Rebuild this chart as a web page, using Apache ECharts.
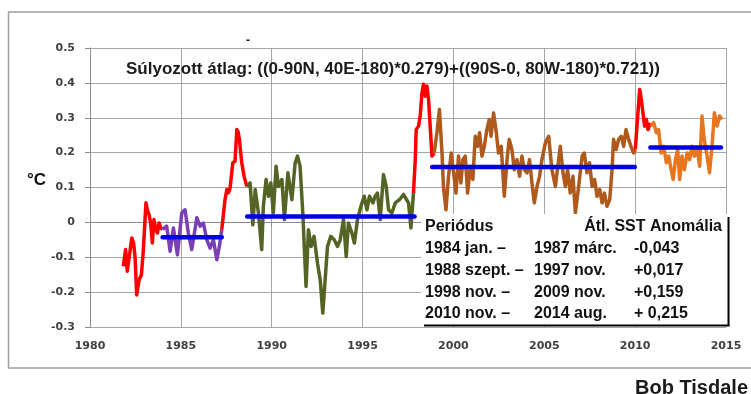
<!DOCTYPE html>
<html>
<head>
<meta charset="utf-8">
<script src="https://cdn.jsdelivr.net/npm/echarts@6/dist/echarts.min.js"></script>
<style>
  html, body { margin: 0; padding: 0; background: #ffffff; }
  #chart { width: 751px; height: 394px; }
</style>
</head>
<body>
<div id="chart"></div>
<script>
// Monthly-ish SST anomaly segments (decimal year, °C)
const elNino1982Years = [1981.83, 1981.96, 1982.05, 1982.12, 1982.30, 1982.40, 1982.48, 1982.57, 1982.70, 1982.83, 1982.93, 1983.08, 1983.15, 1983.25, 1983.34, 1983.43, 1983.52, 1983.62, 1983.71, 1983.80, 1983.89, 1984.00];
const elNino1982Anom  = [-0.126, -0.078, -0.140, -0.145, -0.045, -0.060, -0.100, -0.208, -0.165, -0.150, -0.083, 0.056, 0.036, 0.022, -0.002, -0.059, 0.008, -0.021, -0.030, -0.002, -0.016, -0.020];

const period1Years = [1984.00, 1984.22, 1984.41, 1984.59, 1984.81, 1985.05, 1985.23, 1985.41, 1985.60, 1985.88, 1986.06, 1986.24, 1986.43, 1986.61, 1986.79, 1986.98, 1987.12, 1987.25];
const period1Anom  = [-0.020, -0.011, -0.083, -0.016, -0.093, 0.027, 0.036, -0.030, -0.078, 0.013, -0.011, -0.002, -0.050, -0.074, -0.050, -0.107, -0.069, -0.021];

const elNino1987Years = [1987.25, 1987.43, 1987.53, 1987.62, 1987.71, 1987.86, 1987.98, 1988.08, 1988.15, 1988.22, 1988.35, 1988.48, 1988.63];
const elNino1987Anom  = [-0.021, 0.065, 0.094, 0.085, 0.099, 0.171, 0.175, 0.266, 0.260, 0.238, 0.171, 0.132, 0.103];

const period2Years = [1988.63, 1988.81, 1988.96, 1989.09, 1989.27, 1989.45, 1989.54, 1989.69, 1989.82, 1989.95, 1990.09, 1990.24, 1990.37, 1990.56, 1990.70, 1990.89, 1991.11, 1991.29, 1991.42, 1991.56, 1991.71, 1991.89, 1992.02, 1992.17, 1992.33, 1992.52, 1992.67, 1992.81, 1992.94, 1993.07, 1993.25, 1993.44, 1993.62, 1993.77, 1993.95, 1994.10, 1994.22, 1994.41, 1994.55, 1994.72, 1994.91, 1995.09, 1995.24, 1995.38, 1995.57, 1995.69, 1995.82, 1995.97, 1996.15, 1996.30, 1996.43, 1996.61, 1996.80, 1997.03, 1997.25, 1997.53, 1997.66, 1997.80];
const period2Anom  = [0.103, 0.113, -0.007, 0.094, 0.027, -0.078, 0.046, 0.123, 0.075, 0.113, 0.027, 0.161, 0.103, 0.123, 0.008, 0.142, 0.065, 0.171, 0.190, 0.161, 0.027, -0.184, -0.021, -0.069, -0.040, -0.117, -0.165, -0.260, -0.165, -0.069, -0.040, -0.050, -0.069, -0.050, 0.008, -0.098, -0.002, -0.030, -0.059, 0.008, 0.046, 0.075, 0.036, 0.075, 0.056, 0.075, 0.084, 0.008, 0.137, 0.103, 0.036, 0.027, 0.056, 0.065, 0.080, 0.056, -0.016, 0.084];

const elNino1997Years = [1997.80, 1997.90, 1997.95, 1998.08, 1998.17, 1998.27, 1998.35, 1998.45, 1998.54, 1998.63, 1998.72, 1998.82, 1998.94];
const elNino1997Anom  = [0.084, 0.180, 0.266, 0.276, 0.305, 0.372, 0.396, 0.362, 0.391, 0.353, 0.276, 0.190, 0.199];

const period3Years = [1998.94, 1999.09, 1999.23, 1999.37, 1999.45, 1999.59, 1999.73, 1999.88, 2000.01, 2000.14, 2000.28, 2000.41, 2000.52, 2000.65, 2000.78, 2000.93, 2001.07, 2001.20, 2001.33, 2001.44, 2001.57, 2001.70, 2001.84, 2001.97, 2002.07, 2002.21, 2002.36, 2002.48, 2002.63, 2002.80, 2002.95, 2003.07, 2003.22, 2003.35, 2003.50, 2003.64, 2003.77, 2003.90, 2004.05, 2004.19, 2004.32, 2004.45, 2004.60, 2004.74, 2004.87, 2005.06, 2005.24, 2005.42, 2005.61, 2005.79, 2005.88, 2006.03, 2006.16, 2006.28, 2006.43, 2006.58, 2006.71, 2006.89, 2007.08, 2007.20, 2007.35, 2007.49, 2007.63, 2007.77, 2007.90, 2008.05, 2008.18, 2008.31, 2008.45, 2008.60, 2008.73, 2008.81, 2008.96, 2009.09, 2009.24, 2009.37, 2009.50, 2009.64, 2009.77, 2009.92, 2010.01];
const period3Anom  = [0.199, 0.257, 0.324, 0.199, 0.103, 0.036, 0.132, 0.199, 0.142, 0.084, 0.190, 0.113, 0.180, 0.190, 0.084, 0.161, 0.123, 0.247, 0.218, 0.257, 0.190, 0.218, 0.266, 0.295, 0.247, 0.314, 0.257, 0.199, 0.218, 0.075, 0.180, 0.238, 0.209, 0.151, 0.180, 0.132, 0.190, 0.151, 0.142, 0.180, 0.113, 0.056, 0.103, 0.132, 0.180, 0.228, 0.247, 0.151, 0.103, 0.180, 0.218, 0.142, 0.103, 0.151, 0.084, 0.132, 0.027, 0.103, 0.190, 0.199, 0.142, 0.171, 0.103, 0.123, 0.075, 0.094, 0.056, 0.084, 0.046, 0.065, 0.151, 0.238, 0.209, 0.238, 0.247, 0.218, 0.266, 0.238, 0.218, 0.199, 0.209];

const elNino2009Years = [2010.01, 2010.10, 2010.25, 2010.34, 2010.43, 2010.52, 2010.62, 2010.71, 2010.80, 2010.88];
const elNino2009Anom  = [0.209, 0.276, 0.381, 0.353, 0.314, 0.276, 0.295, 0.266, 0.281, 0.276];

const period4Years = [2010.88, 2011.02, 2011.17, 2011.29, 2011.43, 2011.57, 2011.72, 2011.85, 2011.98, 2012.09, 2012.22, 2012.34, 2012.45, 2012.58, 2012.71, 2012.86, 2013.00, 2013.13, 2013.26, 2013.41, 2013.55, 2013.68, 2013.80, 2013.96, 2014.09, 2014.23, 2014.36, 2014.51, 2014.65, 2014.78];
const period4Anom  = [0.276, 0.286, 0.257, 0.266, 0.199, 0.218, 0.171, 0.190, 0.151, 0.123, 0.180, 0.209, 0.123, 0.190, 0.151, 0.199, 0.180, 0.218, 0.190, 0.209, 0.161, 0.305, 0.238, 0.190, 0.142, 0.218, 0.314, 0.276, 0.305, 0.295];

// Averaging periods and their mean anomalies
const periodStartLabels = ['1984 jan. \u2013', '1988 szept. \u2013', '1998 nov. \u2013', '2010 nov. \u2013'];
const periodEndLabels   = ['1987 márc.', '1997 nov.', '2009 nov.', '2014 aug.'];
const periodMeanLabels  = ['-0,043', '+0,017', '+0,159', '+ 0,215'];
const periodMeans       = [-0.043, 0.017, 0.159, 0.215];
const periodFrom        = [1984.00, 1988.65, 1998.83, 2010.84];
const periodTo          = [1987.25, 1997.86, 2009.98, 2014.72];

const xTicks = { min: 1980, max: 2015, step: 5 };
const yTicks = { min: -0.3, max: 0.5, step: 0.1 };

const pairs = (xs, ys) => xs.map((x, i) => [x, ys[i]]);

const COLORS = {
  elNino: '#ff0000',
  p1: '#7b3fb5',
  p2: '#546424',
  p3: '#ad5a1c',
  p4: '#e8761e',
  mean: '#0000e6'
};

function anomalySeries(xs, ys, color) {
  return {
    type: 'line',
    data: pairs(xs, ys),
    symbol: 'none',
    smooth: false,
    lineStyle: { color: color, width: 3.5, join: 'round' },
    z: 3,
    animation: false
  };
}

const series = [
  anomalySeries(elNino1982Years, elNino1982Anom, COLORS.elNino),
  anomalySeries(period1Years, period1Anom, COLORS.p1),
  anomalySeries(elNino1987Years, elNino1987Anom, COLORS.elNino),
  anomalySeries(period2Years, period2Anom, COLORS.p2),
  anomalySeries(elNino1997Years, elNino1997Anom, COLORS.elNino),
  anomalySeries(period3Years, period3Anom, COLORS.p3),
  anomalySeries(elNino2009Years, elNino2009Anom, COLORS.elNino),
  anomalySeries(period4Years, period4Anom, COLORS.p4)
];

periodMeans.forEach((m, i) => {
  series.push({
    type: 'line',
    data: [[periodFrom[i], m], [periodTo[i], m]],
    symbol: 'none',
    lineStyle: { color: COLORS.mean, width: 4.5, cap: 'round' },
    z: 4,
    animation: false
  });
});

// Summary table drawn over the lower-right corner of the plot
const tableFont = 'bold 16px "Liberation Sans", Arial, sans-serif';
const rowY = [248.5, 270.5, 292.5, 314];
const tableTexts = [];
tableTexts.push({ type: 'text', x: 425, y: 227, style: { text: 'Periódus', font: tableFont, fill: '#111', textVerticalAlign: 'middle' } });
tableTexts.push({ type: 'text', x: 722, y: 227, style: { text: 'Átl. SST Anomália', font: tableFont, fill: '#111', textAlign: 'right', textVerticalAlign: 'middle' } });
periodStartLabels.forEach((s, i) => {
  tableTexts.push({ type: 'text', x: 425, y: rowY[i], style: { text: s, font: tableFont, fill: '#111', textVerticalAlign: 'middle' } });
  tableTexts.push({ type: 'text', x: 534, y: rowY[i], style: { text: periodEndLabels[i], font: tableFont, fill: '#111', textVerticalAlign: 'middle' } });
  tableTexts.push({ type: 'text', x: 634, y: rowY[i], style: { text: periodMeanLabels[i], font: tableFont, fill: '#111', textVerticalAlign: 'middle' } });
});

const chart = echarts.init(document.getElementById('chart'), null, { renderer: 'canvas' });

chart.setOption({
  animation: false,
  backgroundColor: '#ffffff',
  grid: { left: 90, right: 25, top: 48, bottom: 67 },
  xAxis: {
    type: 'value',
    min: xTicks.min,
    max: xTicks.max,
    interval: xTicks.step,
    axisLine: { show: true, lineStyle: { color: '#8c8c8c', width: 1 } },
    axisTick: { show: true, length: 4, lineStyle: { color: '#8c8c8c' } },
    splitLine: { show: true, lineStyle: { color: '#a6a6a6', width: 1 } },
    axisLabel: {
      margin: 14,
      color: '#404040',
      fontFamily: 'DejaVu Sans',
      fontWeight: 'bold',
      fontSize: 11,
      formatter: v => String(v)
    }
  },
  yAxis: {
    type: 'value',
    min: yTicks.min,
    max: yTicks.max,
    interval: yTicks.step,
    axisLine: { show: true, lineStyle: { color: '#8c8c8c', width: 1 } },
    axisTick: { show: true, length: 5, lineStyle: { color: '#8c8c8c' } },
    splitLine: { show: true, lineStyle: { color: '#a6a6a6', width: 1 } },
    axisLabel: {
      margin: 15,
      color: '#404040',
      fontFamily: 'DejaVu Sans',
      fontWeight: 'bold',
      fontSize: 11,
      formatter: v => String(+v.toFixed(1))
    }
  },
  series: series,
  graphic: [
    { type: 'rect', silent: true, z: -10, shape: { x: 8.5, y: 12, width: 800, height: 356 }, style: { fill: 'none', stroke: '#a0a0a0', lineWidth: 1.5 } },
    { type: 'text', x: 126, y: 69, z: 50, style: { text: 'Súlyozott átlag: ((0-90N, 40E-180)*0.279)+((90S-0, 80W-180)*0.721))', font: 'bold 17px "Liberation Sans", Arial, sans-serif', fill: '#1a1a1a', textVerticalAlign: 'middle' } },
    { type: 'text', x: 248, y: 41, z: 50, style: { text: '-', font: 'bold 12px "Liberation Sans", Arial, sans-serif', fill: '#1a1a1a', textAlign: 'center', textVerticalAlign: 'middle' } },
    { type: 'text', x: 27, y: 180, z: 50, style: { text: '°C', font: 'bold 17px "Liberation Sans", Arial, sans-serif', fill: '#111', textVerticalAlign: 'middle' } },
    { type: 'rect', silent: true, z: 40, shape: { x: 421, y: 214, width: 307, height: 111 }, style: { fill: '#ffffff' } },
    { type: 'line', silent: true, z: 41, shape: { x1: 424, y1: 325.5, x2: 729.5, y2: 325.5 }, style: { stroke: '#000', lineWidth: 2 } },
    { type: 'line', silent: true, z: 41, shape: { x1: 728.5, y1: 217, x2: 728.5, y2: 326 }, style: { stroke: '#000', lineWidth: 2 } },
    { type: 'group', z: 45, children: tableTexts.map(t => Object.assign({ z: 45 }, t)) },
    { type: 'text', x: 748, y: 388, z: 50, style: { text: 'Bob Tisdale', font: 'bold 20px "Liberation Sans", Arial, sans-serif', fill: '#1a1a1a', textAlign: 'right', textVerticalAlign: 'middle' } }
  ]
});
</script>
</body>
</html>
